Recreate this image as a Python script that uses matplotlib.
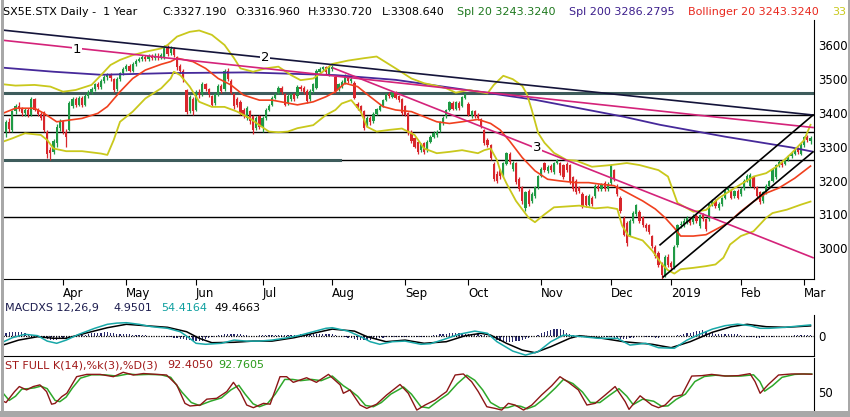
import numpy as np
import matplotlib
matplotlib.use("Agg")
import matplotlib.pyplot as plt
from matplotlib.lines import Line2D

# ---- price data (daily bars, index 0 = 6 Mar 2018) ----
opens = [
    3345, 3372, 3350, 3405, 3420, 3412, 3400, 3408, 3395, 3440,
    3410, 3398, 3402, 3345, 3290, 3285, 3310, 3355, 3375, 3345,
    3350, 3422, 3440, 3425, 3445, 3425, 3450, 3462, 3470, 3485,
    3478, 3495, 3505, 3512, 3500, 3470, 3500, 3518, 3530, 3540,
    3525, 3545, 3555, 3560, 3566, 3560, 3568, 3562, 3570, 3565,
    3565, 3595, 3578, 3590, 3565, 3540, 3525, 3468, 3405, 3440,
    3410, 3460, 3455, 3485, 3470, 3450, 3430, 3455, 3480, 3470,
    3525, 3495, 3455, 3440, 3432, 3410, 3385, 3405, 3390, 3355,
    3390, 3360, 3385, 3410, 3425, 3445, 3460, 3475, 3455, 3430,
    3440, 3455, 3450, 3478, 3475, 3465, 3440, 3465, 3475, 3520,
    3530, 3535, 3515, 3530, 3505, 3470, 3480, 3490, 3505, 3495,
    3490, 3428, 3420, 3405, 3365, 3385, 3375, 3398, 3410, 3422,
    3438, 3455, 3448, 3462, 3450, 3440, 3420, 3400, 3345, 3325,
    3315, 3290, 3310, 3290, 3315, 3330, 3335, 3350, 3370, 3390,
    3410, 3430, 3412, 3430, 3422, 3445, 3428, 3390, 3405, 3395,
    3382, 3350, 3320, 3305, 3250, 3220, 3230, 3215, 3250, 3280,
    3235, 3252, 3205, 3180, 3120, 3170, 3140, 3155, 3180, 3214,
    3252, 3228, 3243, 3225, 3252, 3252, 3245, 3250, 3245, 3210,
    3200, 3180, 3160, 3155, 3128, 3150, 3155, 3185, 3175, 3193,
    3175, 3192, 3230, 3185, 3150, 3090, 3075, 3040, 3080, 3100,
    3108, 3092, 3070, 3068, 3035, 3005, 2985, 2955, 2920, 2975,
    2955, 2945, 3010, 3068, 3070, 3078, 3085, 3078, 3095, 3065,
    3098, 3085, 3085, 3130, 3140, 3118, 3130, 3150, 3172, 3172,
    3155, 3170, 3160, 3178, 3200, 3185, 3210, 3180, 3165, 3140,
    3165, 3185, 3200, 3210, 3245, 3255, 3250, 3262, 3272, 3280,
    3295, 3280, 3305, 3330, 3317,
]
highs = [
    3380, 3385, 3410, 3428, 3432, 3418, 3415, 3414, 3448, 3445,
    3416, 3404, 3406, 3350, 3300, 3324, 3366, 3382, 3380, 3352,
    3436, 3446, 3446, 3450, 3450, 3456, 3468, 3476, 3490, 3492,
    3500, 3512, 3518, 3518, 3504, 3505, 3522, 3536, 3546, 3546,
    3550, 3560, 3566, 3572, 3572, 3574, 3574, 3576, 3576, 3578,
    3600, 3600, 3598, 3596, 3570, 3546, 3530, 3472, 3454, 3446,
    3468, 3470, 3492, 3490, 3474, 3454, 3460, 3486, 3485, 3530,
    3532, 3500, 3460, 3446, 3438, 3416, 3420, 3410, 3394, 3390,
    3394, 3390, 3416, 3428, 3450, 3458, 3480, 3480, 3460, 3455,
    3460, 3460, 3482, 3484, 3480, 3470, 3470, 3490, 3530, 3536,
    3540, 3540, 3538, 3542, 3510, 3490, 3498, 3515, 3510, 3505,
    3495, 3432, 3424, 3408, 3390, 3390, 3402, 3416, 3426, 3442,
    3460, 3462, 3466, 3466, 3454, 3444, 3425, 3404, 3350, 3330,
    3318, 3312, 3314, 3320, 3335, 3346, 3350, 3376, 3390, 3412,
    3436, 3434, 3436, 3434, 3450, 3460, 3432, 3410, 3410, 3400,
    3386, 3354, 3325, 3308, 3255, 3228, 3235, 3256, 3286, 3284,
    3258, 3256, 3210, 3185, 3170, 3175, 3165, 3185, 3218, 3240,
    3256, 3245, 3248, 3256, 3265, 3256, 3250, 3254, 3250, 3214,
    3204, 3185, 3165, 3158, 3160, 3154, 3190, 3190, 3194, 3198,
    3195, 3250, 3235, 3190, 3155, 3095, 3080, 3085, 3110, 3132,
    3112, 3096, 3076, 3072, 3040, 3010, 2992, 2960, 2980, 2982,
    2962, 3010, 3072, 3080, 3088, 3096, 3092, 3100, 3100, 3102,
    3104, 3090, 3135, 3145, 3145, 3138, 3152, 3176, 3184, 3176,
    3172, 3175, 3180, 3205, 3220, 3222, 3215, 3185, 3170, 3170,
    3190, 3202, 3236, 3250, 3260, 3260, 3266, 3276, 3285, 3296,
    3300, 3310, 3332, 3335, 3331,
]
lows = [
    3330, 3345, 3345, 3398, 3405, 3392, 3392, 3388, 3390, 3405,
    3390, 3378, 3344, 3268, 3260, 3278, 3300, 3348, 3338, 3300,
    3346, 3415, 3418, 3420, 3418, 3420, 3444, 3455, 3465, 3472,
    3472, 3490, 3498, 3496, 3462, 3465, 3495, 3512, 3524, 3520,
    3520, 3540, 3550, 3554, 3554, 3555, 3556, 3556, 3558, 3560,
    3560, 3570, 3572, 3566, 3528, 3518, 3492, 3396, 3400, 3394,
    3405, 3445, 3450, 3465, 3448, 3420, 3425, 3450, 3460, 3465,
    3495, 3455, 3412, 3418, 3395, 3385, 3378, 3368, 3338, 3350,
    3352, 3345, 3380, 3405, 3420, 3440, 3455, 3456, 3420, 3425,
    3435, 3435, 3445, 3465, 3456, 3430, 3435, 3460, 3472, 3515,
    3525, 3514, 3510, 3524, 3460, 3465, 3475, 3485, 3490, 3488,
    3440, 3410, 3395, 3350, 3360, 3365, 3370, 3394, 3405, 3418,
    3434, 3444, 3444, 3440, 3432, 3394, 3390, 3335, 3312, 3295,
    3278, 3285, 3280, 3286, 3310, 3325, 3330, 3345, 3365, 3385,
    3405, 3408, 3408, 3410, 3418, 3440, 3390, 3385, 3385, 3378,
    3355, 3305, 3298, 3262, 3198, 3192, 3205, 3210, 3245, 3250,
    3228, 3190, 3168, 3132, 3110, 3125, 3135, 3150, 3175, 3210,
    3225, 3222, 3225, 3220, 3248, 3218, 3205, 3226, 3190, 3170,
    3160, 3162, 3120, 3122, 3124, 3126, 3150, 3170, 3170, 3170,
    3170, 3188, 3200, 3155, 3105, 3035, 3008, 3035, 3075, 3095,
    3075, 3062, 3052, 3042, 3002, 2972, 2945, 2909, 2915, 2945,
    2935, 2940, 3005, 3060, 3064, 3072, 3068, 3072, 3076, 3060,
    3080, 3052, 3080, 3125, 3120, 3112, 3125, 3145, 3166, 3145,
    3150, 3145, 3155, 3172, 3195, 3180, 3175, 3150, 3130, 3135,
    3160, 3180, 3195, 3205, 3240, 3240, 3245, 3258, 3268, 3275,
    3280, 3276, 3300, 3315, 3309,
]
closes = [
    3372, 3352, 3405, 3420, 3412, 3400, 3408, 3395, 3440, 3410,
    3398, 3385, 3350, 3278, 3282, 3318, 3360, 3375, 3345, 3330,
    3430, 3440, 3425, 3445, 3425, 3450, 3462, 3470, 3485, 3478,
    3495, 3505, 3512, 3502, 3468, 3500, 3518, 3530, 3540, 3525,
    3545, 3555, 3560, 3566, 3560, 3568, 3562, 3570, 3565, 3572,
    3595, 3575, 3590, 3572, 3535, 3525, 3500, 3402, 3448, 3405,
    3460, 3452, 3485, 3470, 3455, 3425, 3455, 3480, 3465, 3525,
    3500, 3460, 3420, 3425, 3400, 3390, 3415, 3375, 3350, 3385,
    3360, 3385, 3410, 3422, 3445, 3452, 3475, 3462, 3425, 3450,
    3455, 3440, 3478, 3470, 3462, 3435, 3465, 3485, 3525, 3530,
    3535, 3520, 3532, 3535, 3465, 3485, 3492, 3510, 3495, 3500,
    3445, 3415, 3400, 3357, 3385, 3372, 3398, 3412, 3422, 3437,
    3456, 3450, 3462, 3445, 3437, 3400, 3395, 3340, 3318, 3300,
    3285, 3308, 3285, 3315, 3330, 3342, 3345, 3372, 3385, 3408,
    3432, 3412, 3432, 3415, 3446, 3455, 3395, 3405, 3390, 3385,
    3360, 3312, 3305, 3268, 3205, 3200, 3215, 3252, 3282, 3255,
    3252, 3195, 3175, 3140, 3165, 3130, 3160, 3180, 3214, 3234,
    3230, 3240, 3230, 3252, 3260, 3222, 3210, 3230, 3195, 3175,
    3165, 3170, 3126, 3128, 3155, 3132, 3185, 3175, 3190, 3175,
    3190, 3245, 3205, 3160, 3110, 3040, 3015, 3080, 3105, 3128,
    3080, 3068, 3060, 3048, 3008, 2978, 2950, 2920, 2975, 2950,
    2945, 3005, 3068, 3072, 3082, 3090, 3075, 3095, 3082, 3098,
    3085, 3058, 3130, 3140, 3125, 3132, 3148, 3172, 3178, 3150,
    3168, 3150, 3175, 3200, 3215, 3218, 3180, 3155, 3138, 3165,
    3185, 3198, 3232, 3245, 3255, 3245, 3262, 3272, 3280, 3292,
    3285, 3305, 3328, 3320, 3327,
]

# ---- indicator lines at sample bars ----
spl20_x = [-1, 3, 9, 12, 16, 20, 24, 29, 32, 36, 40, 44, 49, 52, 54, 59, 63, 67, 71, 75,
           80, 84, 88, 92, 97, 101, 104, 107, 111, 115, 119, 123, 128, 132, 136, 140, 144,
           149, 153, 156, 159, 163, 167, 171, 175, 180, 184, 188, 192, 196, 201, 205, 208,
           211, 213, 217, 221, 223, 228, 232, 236, 240, 244, 249, 254]
spl20_y = [3399, 3414, 3414, 3399, 3374, 3379, 3384, 3399, 3419, 3463, 3502, 3527, 3544,
           3552, 3562, 3552, 3532, 3502, 3483, 3453, 3438, 3438, 3431, 3424, 3433, 3448,
           3463, 3488, 3478, 3448, 3419, 3409, 3404, 3389, 3374, 3369, 3374, 3381, 3369,
           3350, 3317, 3268, 3229, 3204, 3199, 3194, 3194, 3189, 3185, 3165, 3140, 3116,
           3091, 3060, 3036, 3036, 3040, 3050, 3075, 3109, 3138, 3163, 3178, 3207, 3243]

boll_up_x = [-1, 3, 9, 14, 18, 22, 27, 30, 33, 36, 40, 44, 49, 51, 54, 58, 61, 65, 69,
             72, 74, 78, 82, 86, 90, 93, 97, 100, 103, 108, 113, 117, 123, 128, 132, 136,
             139, 142, 146, 149, 152, 154, 157, 160, 163, 164.5, 166, 168, 170, 173, 177,
             180, 185, 191, 196, 200, 206, 209, 212, 217, 221, 225, 229, 236, 240, 244,
             248, 252, 254]
boll_up_y = [3485, 3481, 3483, 3478, 3463, 3468, 3483, 3512, 3542, 3557, 3571, 3581, 3591,
             3601, 3626, 3640, 3644, 3631, 3601, 3562, 3532, 3522, 3532, 3537, 3512, 3497,
             3502, 3522, 3545, 3555, 3562, 3567, 3532, 3502, 3488, 3480, 3473, 3460, 3468,
             3463, 3458, 3483, 3510, 3500, 3480, 3455, 3409, 3341, 3312, 3282, 3261, 3259,
             3241, 3246, 3252, 3246, 3231, 3212, 3134, 3108, 3113, 3148, 3172, 3212, 3222,
             3246, 3281, 3320, 3365]

boll_lo_x = [-1, 2, 6, 11, 13, 15, 19, 24, 30, 32, 34, 36, 40, 44, 49, 52, 53, 55, 58,
             61, 65, 69, 73, 77, 80, 83, 86, 89, 92, 97, 101, 104, 106, 109, 112, 114, 117,
             121, 125, 129, 132, 136, 140, 144, 149, 151, 153, 155, 156, 158, 161, 165,
             167, 170, 173, 181, 186, 190, 193, 194.5, 196.5, 201, 204, 207, 209, 211, 213,
             217, 221, 224, 226.5, 228.6, 232, 236, 240, 242, 246.5, 251, 254]
boll_lo_y = [3315, 3325, 3340, 3335, 3320, 3295, 3287, 3287, 3280, 3276, 3320, 3374, 3404,
             3443, 3473, 3502, 3522, 3512, 3478, 3433, 3418, 3418, 3404, 3384, 3364, 3345,
             3343, 3345, 3355, 3364, 3394, 3409, 3428, 3438, 3404, 3359, 3345, 3350, 3354,
             3335, 3295, 3281, 3285, 3290, 3281, 3290, 3295, 3261, 3231, 3192, 3140, 3090,
             3077, 3100, 3121, 3126, 3118, 3121, 3116, 3067, 3037, 3023, 2993, 2954, 2935,
             2925, 2938, 2942, 2947, 2952, 2972, 3011, 3036, 3050, 3090, 3104, 3114, 3129,
             3138]

spl200_x = [-1, 15, 30, 52, 76, 104, 123, 144, 156, 167, 195, 206.5, 227, 248, 254.5]
spl200_y = [3534, 3522, 3513, 3518, 3520, 3512, 3498, 3470, 3454, 3439, 3389, 3365, 3330,
            3298, 3286]

# horizontal support / resistance levels
levels = [3460, 3393, 3343, 3261, 3180, 3092]

# trend lines: (x0, y0, x1, y1) in bar index / index points
trend_black = (-1.9, 3646, 254.8, 3394)
trend_pink1 = (-1.9, 3616, 254.8, 3357)
trend_pink3 = (103.3, 3533, 254.8, 2972)
chan_upper = (206.5, 3010, 254.8, 3394)
chan_lower = (207.5, 2915, 254.8, 3285)
trend_labels = [(22.4, 3587, "1"), (81.8, 3563, "2"), (167.7, 3297, "3")]

# ---- MACD (12,26,9) ----
macd_x = [-1, 2, 6, 10, 13, 16, 19, 23, 28, 32, 35, 38, 42, 46, 51, 55, 58, 60, 63, 68,
          72, 76, 80, 84, 89, 93, 97, 101, 103, 108, 112, 115, 118, 122, 126, 131, 134,
          138, 143, 148, 152, 155, 160, 164, 168, 172, 176, 182, 187, 193, 197, 202, 206,
          211, 215, 219, 223, 227, 231, 235, 238, 241, 246, 250, 254]
macd_y = [-32, -10, 7, 0, -27, -38, -22, 7, 37, 57, 63, 65, 57, 45, 37, 20, -13, -38, -43,
          -38, -22, -27, -27, -22, -10, 3, 20, 37, 40, 23, -5, -30, -43, -30, -27, -43, -40,
          -20, 7, 23, 12, -30, -77, -97, -80, -30, 3, -5, -13, -13, -47, -38, -60, -63, -22,
          7, 33, 50, 58, 50, 37, 37, 42, 48, 54]
signal_x = [-1, 4, 10, 15, 19, 25, 32, 38, 44, 51, 57, 61, 65, 72, 78, 84, 91, 97, 103,
            110, 114, 120, 126, 132, 139, 145, 150, 153, 158, 163, 167, 172, 178, 181, 187,
            195, 204, 210, 216, 223, 229, 234, 240, 246, 254]
signal_y = [-47, -22, -5, -13, -13, 12, 40, 57, 50, 42, 20, -13, -35, -33, -27, -27, -10,
            12, 33, 23, -5, -30, -22, -38, -30, 0, 12, 3, -38, -72, -85, -55, -13, 0, -10,
            -30, -43, -60, -30, 17, 45, 57, 45, 42, 49]
macd_hist = [
    15, 17, 19, 20, 20, 18, 14, 10, 6, 3,
    2, -3, -8, -14, -19, -22, -20, -16, -12, -9,
    -5, -2, 1, 3, 5, 6, 9, 12, 14, 15,
    16, 17, 17, 15, 13, 11, 10, 9, 8, 7,
    6, 5, 4, 3, 2, 1, 0, -1, -2, -3,
    -4, -6, -8, -10, -12, -15, -18, -20, -23, -25,
    -27, -27, -24, -18, -12, -6, -2, 2, 5, 8,
    10, 11, 11, 9, 7, 5, 3, 1, 0, 1,
    2, 3, 4, 5, 5, 5, 5, 5, 5, 5,
    5, 6, 6, 7, 7, 8, 8, 8, 9, 9,
    9, 8, 8, 7, 4, 1, -2, -5, -9, -13,
    -16, -19, -21, -22, -23, -21, -18, -14, -11, -9,
    -8, -7, -6, -6, -5, -5, -5, -4, -4, -5,
    -5, -5, -5, -3, 0, 3, 6, 8, 10, 11,
    12, 12, 12, 12, 12, 11, 10, 9, 8, 7,
    6, 4, 0, -6, -15, -20, -25, -28, -30, -30,
    -29, -28, -26, -23, -18, -12, -6, 0, 5, 12,
    18, 24, 30, 34, 36, 34, 28, 16, 8, 2,
    -2, -5, -6, -5, -4, -3, -3, -3, -3, -4,
    -6, -8, -10, -12, -14, -15, -15, -13, -10, -6,
    -3, -2, -4, -6, -8, -10, -10, -8, -5, -3,
    -3, -1, 2, 6, 10, 13, 15, 18, 22, 25,
    28, 24, 15, 12, 10, 9, 8, 8, 8, 8,
    8, 8, 5, 0, -4, -7, -8, -9, -9, -8,
    -8, -6, -4, -2, -1, 0, 0, 1, 1, 2,
    2, 3, 4, 4, 5,
]

# ---- Stochastic full K(14) %k(3) %D(3) ----
stk_x = [-1, 0, 2.7, 4.2, 6.5, 8.6, 10.7, 12.8, 14.4, 15.5, 17.6, 19.2, 22.3, 25.5, 29.7,
         33.9, 37, 40.2, 43.4, 47.6, 50.7, 53.9, 56.5, 58.1, 61.3, 63.4, 66.5, 69.7, 71.8,
         73.9, 76, 78.1, 81.3, 83.4, 86.5, 88.6, 90.7, 94.9, 98, 101.8, 105.5, 106.5,
         108.6, 111.8, 113.9, 117, 120.2, 124.4, 127, 129.7, 132.3, 135.5, 137.6, 139.1,
         141.8, 144.4, 147, 149.1, 151.8, 154.4, 156.5, 158.6, 160.7, 163.4, 166, 169.1,
         172.3, 174.9, 177.6, 180.7, 183.4, 186, 189.2, 192.3, 195.5, 196.7, 200.2, 203.9,
         206, 208.1, 210.7, 213.4, 216.5, 219.7, 222.8, 227, 231.2, 234.9, 236.5, 238.1,
         240.7, 243.9, 248.1, 251.2, 254.4]
stk_y = [28.6, 25, 51, 63, 55, 63, 67, 51, 21, 23, 39, 47, 86.5, 92, 92, 86.5, 97, 90.5,
         94, 92, 90.5, 67, 23, 16.7, 19, 33, 35, 51, 73, 51, 19, 12.7, 23, 21, 86.5, 86.5,
         73, 84, 73, 92, 67, 47, 55, 19, 11, 21, 43, 68, 47, 7, 19, 31, 43, 51, 90.5, 93,
         74.6, 51, 15, 11, 7, 23, 19, 7, 19, 43, 65, 86.5, 73, 55, 19, 23, 43, 63, 27, 8.7,
         41, 19, 12.7, 19, 39, 43, 88, 89, 92, 88, 89, 93.7, 74.6, 47, 68, 90.5, 93, 93,
         92.4]
std_x = [-1, 1, 3, 5, 7, 9, 11, 13, 15.5, 17, 19, 21, 23.5, 27, 31, 35, 38.5, 41.5, 45,
         49, 52, 55.5, 58.5, 61, 64.5, 68, 71, 73.5, 75.5, 78, 80, 82.5, 85, 88, 90.5, 93,
         96.5, 99.5, 103, 106.5, 108.5, 111, 113.5, 116, 118.5, 121.5, 125.5, 128, 131,
         133.5, 137, 139.5, 142.5, 145.5, 148, 150.5, 153, 156, 158.5, 160.5, 162.5, 164.5,
         167, 170, 173.5, 176, 179, 182, 184.5, 187.5, 190.5, 193.5, 196, 198, 201, 204.5,
         207, 209, 211.5, 214.5, 217.5, 220.5, 224, 228, 232, 236, 238, 239.5, 242, 245,
         249, 252, 254.4]
std_y = [48, 30, 40, 57, 58, 60, 64, 58, 30, 27, 38, 60, 83, 91, 91, 88, 93, 91, 92, 91,
         85, 50, 25, 18, 28, 36, 55, 66, 45, 22, 15, 22, 45, 80, 80, 77, 80, 77, 88, 65,
         55, 40, 18, 15, 25, 45, 62, 45, 15, 12, 32, 45, 70, 90, 78, 55, 25, 12, 13, 18,
         16, 10, 17, 35, 60, 80, 70, 50, 25, 25, 42, 58, 40, 20, 33, 28, 16, 17, 32, 45,
         75, 87, 90, 88, 88, 91, 75, 52, 65, 85, 92, 93, 92.8]

month_idx = [18, 38, 60, 81, 103, 126, 146, 169, 191, 210, 232, 252]
month_lab = ["Apr", "May", "Jun", "Jul", "Aug", "Sep", "Oct", "Nov", "Dec", "2019", "Feb", "Mar"]

# ---- colours ----
UP, DOWN = "#1f9a45", "#d8262c"
SLATE = "#3e5c5c"
NAVY = "#1c1c4e"

W, H = 850, 417
fig = plt.figure(figsize=(W / 100, H / 100), dpi=100)
fig.patch.set_facecolor("white")


def box(x0, y0, x1, y1):
    return [x0 / W, 1 - y1 / H, (x1 - x0) / W, (y1 - y0) / H]


ax = fig.add_axes(box(3, 20, 814, 279))
ax_m = fig.add_axes(box(3, 315, 814, 356))
ax_s = fig.add_axes(box(3, 358, 814, 411))
XL = (-0.95, 255.1)

# ---- main price panel ----
x = np.arange(len(closes))
o = np.array(opens, float)
c = np.array(closes, float)
up = c >= o
cols = np.where(up, UP, DOWN)
ax.vlines(x, lows, highs, colors=cols, lw=0.9, zorder=2)
body = np.maximum(np.abs(c - o), 1.5)
ax.bar(x, body, bottom=np.minimum(o, c), width=0.7, color=cols, lw=0, zorder=2)

for lv in levels:
    ax.axhline(lv, color="black", lw=1.0, zorder=1)
ax.axhline(levels[0], color=SLATE, lw=2.2, zorder=1)
ax.plot([XL[0], 105.5], [levels[3], levels[3]], color=SLATE, lw=2.2, zorder=1)

ax.plot(spl200_x, spl200_y, color="#46299a", lw=1.3, zorder=3)
ax.plot(boll_up_x, boll_up_y, color="#c9c81c", lw=1.3, zorder=3)
ax.plot(boll_lo_x, boll_lo_y, color="#c9c81c", lw=1.3, zorder=3)
ax.plot(spl20_x, spl20_y, color="#f0401e", lw=1.2, zorder=3)

for (x0, y0, x1, y1), col in [(trend_black, "#14143a"), (trend_pink1, "#d4237a"),
                              (trend_pink3, "#d4237a"), (chan_upper, "black"),
                              (chan_lower, "black")]:
    ax.plot([x0, x1], [y0, y1], color=col, lw=1.2, zorder=4)

for tx, ty, t in trend_labels:
    ax.text(tx, ty, t, ha="center", va="center", fontsize=9.5, zorder=5,
            bbox=dict(facecolor="white", edgecolor="none", pad=0.5))

ax.set_xlim(*XL)
ax.set_ylim(2909, 3675)
for s in ("top", "left"):
    ax.spines[s].set_visible(False)
ax.yaxis.tick_right()
ax.set_yticks([3000, 3100, 3200, 3300, 3400, 3500, 3600])
ax.tick_params(axis="y", length=0, pad=3, labelsize=8.5)
ax.set_xticks(month_idx)
ax.set_xticklabels(month_lab)
ax.tick_params(axis="x", length=4, pad=2, labelsize=8.5)
for lab in ax.get_xticklabels():
    lab.set_horizontalalignment("left")

# ---- MACD panel ----
ax_m.bar(np.arange(len(macd_hist)), macd_hist, width=0.4, color="#2a2a6c", lw=0)
ax_m.axhline(0, color="black", lw=0.9, ls=(0, (1, 1)))
ax_m.plot(signal_x, signal_y, color="black", lw=1.1)
ax_m.plot(macd_x, macd_y, color="#18a8a8", lw=1.1)
ax_m.set_xlim(*XL)
ax_m.set_ylim(-101.5, 103.5)
for s in ("top", "left"):
    ax_m.spines[s].set_visible(False)
ax_m.set_xticks([])
ax_m.yaxis.tick_right()
ax_m.set_yticks([0])
ax_m.tick_params(axis="y", length=0, pad=3, labelsize=8.5)

# ---- stochastic panel ----
ax_s.plot(std_x, std_y, color="#2ea82a", lw=1.1)
ax_s.plot(stk_x, stk_y, color="#8c1616", lw=1.0)
ax_s.set_xlim(*XL)
ax_s.set_ylim(4.8, 131)
for s in ("top", "left", "bottom"):
    ax_s.spines[s].set_visible(False)
ax_s.set_xticks([])
ax_s.yaxis.tick_right()
ax_s.set_yticks([50])
ax_s.tick_params(axis="y", length=0, pad=3, labelsize=8.5)


# ---- header texts ----
def put(px, py, s, col):
    fig.text(px / W, 1 - py / H, s, color=col, fontsize=8, ha="left", va="center")


put(3, 12, "SX5E.STX Daily -  1 Year", "black")
put(162, 12, "C:3327.190", "black")
put(235, 12, "O:3316.960", "black")
put(308, 12, "H:3330.720", "black")
put(382, 12, "L:3308.640", "black")
put(457, 12, "Spl 20 3243.3240", "#1e781e")
put(569, 12, "Spl 200 3286.2795", "#3c1e8c")
put(688, 12, "Bollinger 20 3243.3240", "#e8281e")
put(832, 12, "33", "#c8c81c")

put(5, 308, "MACDXS 12,26,9", NAVY)
put(113, 308, "4.9501", NAVY)
put(161, 308, "54.4164", "#10a0a0")
put(214, 308, "49.4663", "black")

put(5, 365, "ST FULL K(14),%k(3),%D(3)", "#a01818")
put(167, 365, "92.4050", "#a01818")
put(218, 365, "92.7605", "#2a9a1a")

# window frame (left, bottom, right)
for xs, ys, lw in [([1.5, 1.5], [0, 417], 3), ([0, 850], [414, 414], 6), ([848.5, 848.5], [0, 417], 3)]:
    fig.add_artist(Line2D([v / W for v in xs], [1 - v / H for v in ys], color="#a8a8a8", lw=lw * 0.72))

fig.savefig("out.png", dpi=100)
